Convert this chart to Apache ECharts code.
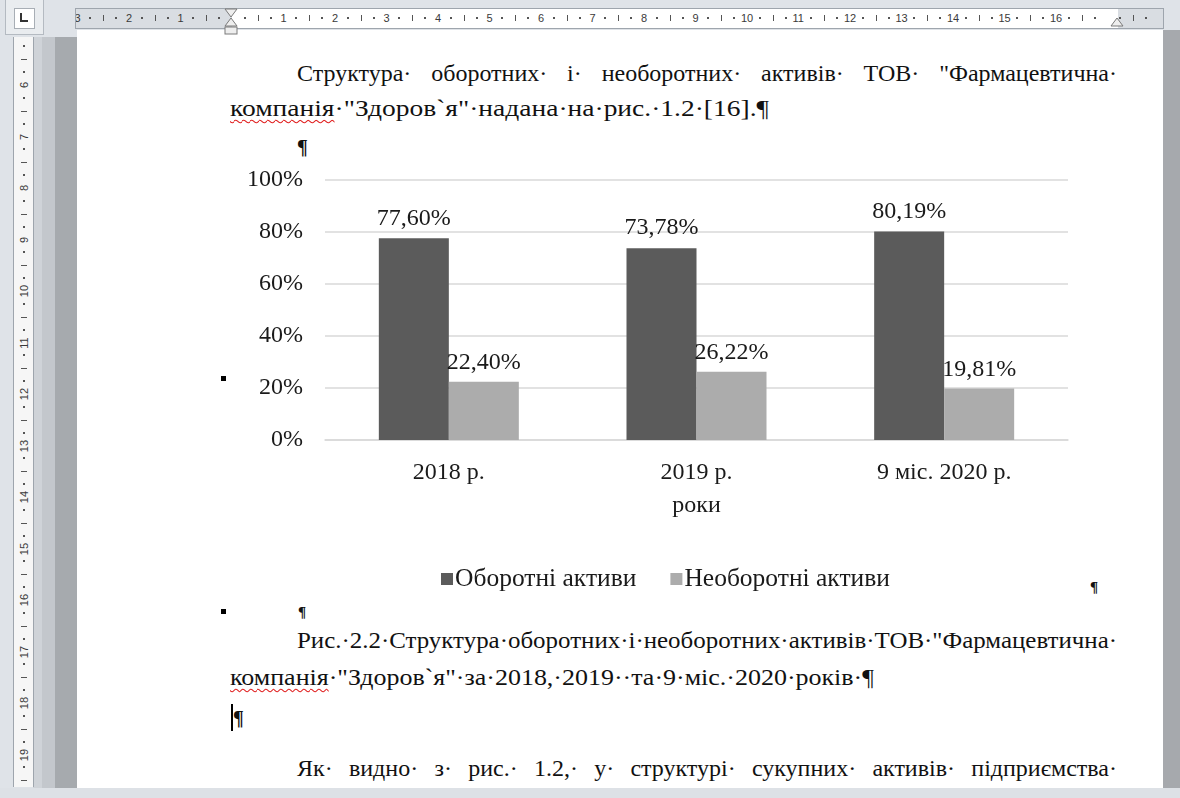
<!DOCTYPE html>
<html>
<head>
<meta charset="utf-8">
<script src="https://cdn.jsdelivr.net/npm/echarts@6/dist/echarts.min.js"></script>
<style>
  html,body{margin:0;padding:0;}
  body{width:1180px;height:798px;overflow:hidden;background:#dfe3e8;position:relative;font-family:"Liberation Serif","Times New Roman",serif;}
  .abs{position:absolute;}
  .tl{position:absolute;white-space:pre;font-size:24px;line-height:28px;color:#111;transform-origin:0 50%;display:inline-block;}
  .tl u{text-decoration:underline wavy #e02020;text-decoration-thickness:1px;text-underline-offset:3px;}
  .rnum{position:absolute;font-family:"Liberation Sans",Arial,sans-serif;font-size:11px;color:#3a3a3a;line-height:12px;}
  .dot{position:absolute;width:2px;height:2px;background:#555;}
  .tick{position:absolute;background:#555;}
  #chart{position:absolute;left:0;top:0;width:1180px;height:798px;z-index:5;}
</style>
</head>
<body>
<!-- window chrome -->
<div class="abs" style="left:5px;top:0;width:37px;height:34px;background:#e9ecef;border:1px solid #b4bac1;border-top:none;"></div>
<div class="abs" style="left:14px;top:8px;width:19px;height:19px;background:#fff;border:1px solid #a8aeb5;"></div>
<div class="abs" style="left:20px;top:13px;width:2px;height:9px;background:#333;"></div>
<div class="abs" style="left:20px;top:20px;width:8px;height:2px;background:#333;"></div>

<div class="abs" style="left:33px;top:37px;width:9px;height:751px;background:#cfd3d8;"></div>
<div class="abs" style="left:42px;top:37px;width:13px;height:751px;background:#c3c7cc;"></div>
<div class="abs" style="left:55px;top:37px;width:22px;height:751px;background:#a6aaae;"></div>
<div class="abs" style="left:77px;top:30px;width:1086px;height:758px;background:#ffffff;"></div>
<div class="abs" style="left:1163px;top:30px;width:17px;height:758px;background:#a6a9ad;"></div>
<div class="abs" style="left:0;top:788px;width:1180px;height:10px;background:#dde1e6;"></div>

<div id="topRuler" class="abs" style="left:75px;top:8px;width:1087px;height:19px;background:#d9dde2;border:1px solid #9ea5ad;overflow:hidden;"></div>
<div id="leftRuler" class="abs" style="left:13px;top:37px;width:19px;height:750px;background:#f6f6f6;border-left:1px solid #9ea5ad;border-right:1px solid #9ea5ad;overflow:hidden;"></div>

<div id="chart"></div>

<script>
// ---------------- chart data ----------------
const categories = ['2018 р.', '2019 р.', '9 міс. 2020 р.'];
const currentAssets = [77.60, 73.78, 80.19];      // Оборотні активи, %
const nonCurrentAssets = [22.40, 26.22, 19.81];   // Необоротні активи, %
const seriesNames = ['Оборотні активи', 'Необоротні активи'];
const xAxisName = 'роки';
const yMin = 0, yMax = 100, yStep = 20;

// ---------------- rulers ----------------
(function(){
  const tr = document.getElementById('topRuler');
  const x0 = 231 - 75, step = 51.5;
  const white = document.createElement('div');
  white.className = 'abs';
  white.style.cssText = 'left:' + x0 + 'px;top:0;width:' + (1117 - 231) + 'px;height:19px;background:#fff;';
  tr.appendChild(white);
  for (let k = -3; k <= 17; k++) {
    const x = x0 + k * step;
    if (k !== 0 && k <= 16) {
      const n = document.createElement('div');
      n.className = 'rnum';
      n.textContent = String(Math.abs(k));
      n.style.left = (x - (Math.abs(k) >= 10 ? 6 : 3)) + 'px';
      n.style.top = '3px';
      tr.appendChild(n);
    }
    [0.25, 0.75].forEach(f => {
      const d = document.createElement('div');
      d.className = 'dot';
      d.style.left = (x + f * step - 1) + 'px'; d.style.top = '8px';
      tr.appendChild(d);
    });
    const t = document.createElement('div');
    t.className = 'tick';
    t.style.cssText = 'left:' + (x + 0.5 * step) + 'px;top:6px;width:1px;height:6px;';
    tr.appendChild(t);
  }
  // indent markers
  const svgNS = 'http://www.w3.org/2000/svg';
  const svg = document.createElementNS(svgNS, 'svg');
  svg.setAttribute('width', '1180'); svg.setAttribute('height', '40');
  svg.style.cssText = 'position:absolute;left:0;top:0;z-index:3;';
  svg.innerHTML =
    '<path d="M225,9 L237,9 L231,17 Z" fill="#eeeeee" stroke="#7a7a7a"/>' +
    '<path d="M231,18 L237,26 L225,26 Z" fill="#eeeeee" stroke="#7a7a7a"/>' +
    '<rect x="225" y="27" width="12" height="7" fill="#eeeeee" stroke="#7a7a7a"/>' +
    '<path d="M1117,18 L1123,26 L1111,26 Z" fill="#eeeeee" stroke="#7a7a7a"/>';
  document.body.appendChild(svg);

  const lr = document.getElementById('leftRuler');
  const y0 = -224 - 37;
  for (let k = 4; k <= 20; k++) {
    const y = y0 + k * step;
    if (k >= 5 && k <= 19) {
      const n = document.createElement('div');
      n.className = 'rnum';
      n.textContent = String(k);
      n.style.left = '3px';
      n.style.top = (y - 6) + 'px';
      n.style.width = '14px'; n.style.textAlign = 'center';
      n.style.transform = 'rotate(-90deg)';
      lr.appendChild(n);
    }
    [0.25, 0.75].forEach(f => {
      const d = document.createElement('div');
      d.className = 'dot';
      d.style.left = '9px'; d.style.top = (y + f * step - 1) + 'px';
      lr.appendChild(d);
    });
    const t = document.createElement('div');
    t.className = 'tick';
    t.style.cssText = 'left:7px;top:' + (y + 0.5 * step) + 'px;width:6px;height:1px;';
    lr.appendChild(t);
  }
})();

// ---------------- document text ----------------
function line(html, left, right, cy, mode, extra) {
  const d = document.createElement('div');
  d.className = 'tl';
  d.innerHTML = html;
  d.style.left = left + 'px';
  d.style.top = (cy - 14) + 'px';
  if (extra) Object.assign(d.style, extra);
  document.body.appendChild(d);
  if (right == null) return d;
  const w = d.getBoundingClientRect().width;
  const target = right - left;
  if (mode === 'justify') {
    const n = (d.textContent.match(/ /g) || []).length;
    if (w <= target && n > 0) { d.style.wordSpacing = ((target - w) / n) + 'px'; return d; }
  }
  d.style.transform = 'scaleX(' + (target / w) + ')';
  return d;
}
line('Структура· оборотних· і· необоротних· активів· ТОВ· "Фармацевтична·', 297, 1117, 73, 'justify');
line('<u>компанія</u>·"Здоров`я"·надана·на·рис.·1.2·[16].¶', 230, 769, 108, 'scale');
line('¶', 297, null, 147, null, {fontWeight: 'bold', fontSize: '20px'});
line('¶', 1090, null, 587, null, {fontWeight: 'bold', fontSize: '15px'});
line('¶', 298, null, 612, null, {fontWeight: 'bold', fontSize: '15px'});
line('Рис.·2.2·Структура·оборотних·і·необоротних·активів·ТОВ·"Фармацевтична·', 297, 1117, 640, 'scale');
line('<u>компанія</u>·"Здоров`я"·за·2018,·2019··та·9·міс.·2020·років·¶', 230, 874, 677, 'scale');
line('¶', 233, null, 718, null, {fontWeight: 'bold', fontSize: '20px'});
line('Як· видно· з· рис.· 1.2,· у· структурі· сукупних· активів· підприємства·', 297, 1117, 768, 'justify');
[[221, 376], [221, 609]].forEach(p => {
  const s = document.createElement('div');
  s.className = 'abs';
  s.style.cssText = 'left:' + p[0] + 'px;top:' + p[1] + 'px;width:5px;height:5px;background:#000;';
  document.body.appendChild(s);
});
(function(){
  const c = document.createElement('div');
  c.className = 'abs';
  c.style.cssText = 'left:231px;top:704px;width:2px;height:27px;background:#000;';
  document.body.appendChild(c);
})();

// ---------------- chart ----------------
const fmt = v => v.toFixed(2).replace('.', ',') + '%';
const FONT = '"Liberation Serif", "Times New Roman", serif';
const TXT = '#1a1a1a';
const chart = echarts.init(document.getElementById('chart'), null, {renderer: 'canvas'});
chart.setOption({
  animation: false,
  textStyle: {fontFamily: FONT},
  grid: {left: 325, right: 112, top: 180, bottom: 358, containLabel: false},
  legend: {
    data: seriesNames, left: 436, top: 561, icon: 'rect',
    itemWidth: 12, itemHeight: 12, itemGap: 34,
    textStyle: {fontFamily: FONT, fontSize: 25.5, color: TXT, padding: [0, 0, 0, -3]}
  },
  xAxis: {
    type: 'category', data: categories,
    axisLine: {show: true, lineStyle: {color: '#d9d9d9', width: 1.5}},
    axisTick: {show: false},
    axisLabel: {fontFamily: FONT, fontSize: 24, color: TXT, margin: 21},
    name: xAxisName, nameLocation: 'middle', nameGap: 54,
    nameTextStyle: {fontFamily: FONT, fontSize: 24, color: TXT}
  },
  yAxis: {
    type: 'value', min: yMin, max: yMax, interval: yStep,
    axisLine: {show: false}, axisTick: {show: false},
    axisLabel: {fontFamily: FONT, fontSize: 24, color: TXT, margin: 22, formatter: '{value}%'},
    splitLine: {lineStyle: {color: '#d9d9d9', width: 1.5}}
  },
  series: [
    {
      name: seriesNames[0], type: 'bar', data: currentAssets, barWidth: 70, barGap: '0%',
      itemStyle: {color: '#5b5b5b'},
      label: {show: true, position: 'top', distance: 8, fontFamily: FONT, fontSize: 24, color: TXT,
              formatter: p => fmt(p.value)}
    },
    {
      name: seriesNames[1], type: 'bar', data: nonCurrentAssets, barWidth: 70, barGap: '0%',
      itemStyle: {color: '#acacac'},
      label: {show: true, position: 'top', distance: 7, fontFamily: FONT, fontSize: 24, color: TXT,
              formatter: p => fmt(p.value)}
    }
  ]
});
</script>
</body>
</html>
